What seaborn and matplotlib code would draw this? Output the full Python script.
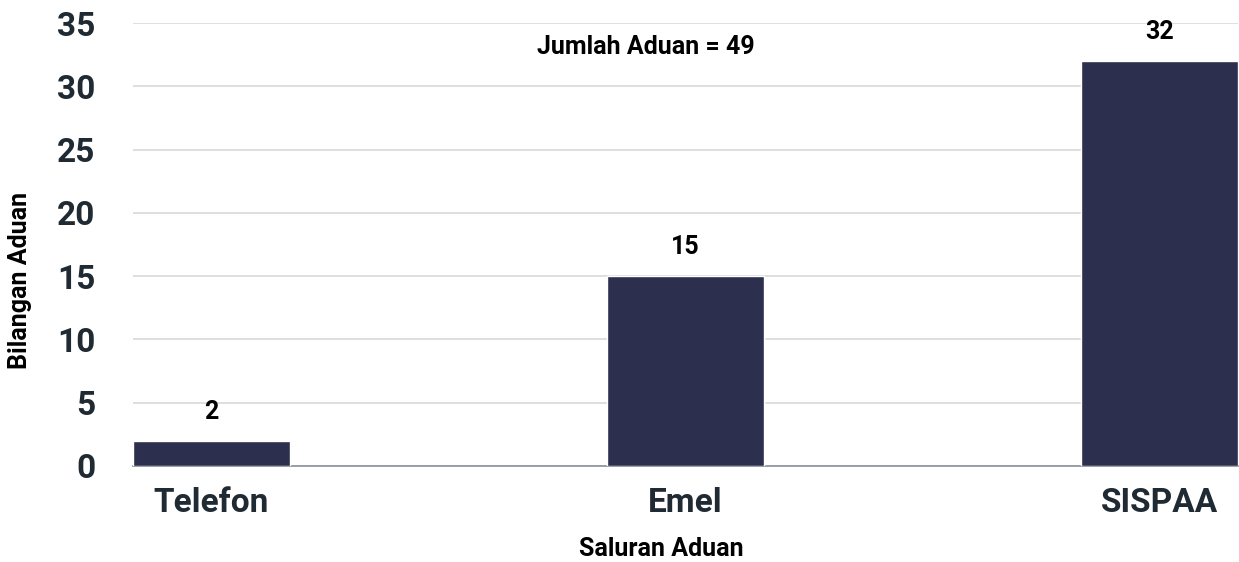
import seaborn as sns
import matplotlib.pyplot as plt
import pandas as pd

channels = ['Telefon', 'Emel', 'SISPAA']
counts = [2, 15, 32]
total_label = 'Jumlah Aduan = 49'

bar_color = '#2c2f4d'
text_color = '#1f2a33'

sns.set_style('white')
plt.rcParams['font.family'] = ['Roboto', 'DejaVu Sans']
plt.rcParams['font.weight'] = 'bold'

df = pd.DataFrame({'channel': channels, 'count': counts})

fig = plt.figure(figsize=(12.39, 5.62), dpi=100)
ax = fig.add_axes([133 / 1239, 96 / 562, 1105 / 1239, 443 / 562])

bar_w = 0.33
sns.barplot(data=df, x='channel', y='count', color=bar_color, width=bar_w,
            saturation=1, ax=ax, zorder=3)

ax.set_xlim(-bar_w / 2, 2 + bar_w / 2)
ax.set_ylim(0, 35)
ax.set_yticks(range(0, 36, 5))
ax.yaxis.grid(True, color='#d9d9d9', linewidth=1.2, zorder=0)
ax.set_axisbelow(True)

for s in ['left', 'right', 'top']:
    ax.spines[s].set_visible(False)
ax.spines['bottom'].set_color('#8a9099')
ax.spines['bottom'].set_linewidth(1.2)

ax.tick_params(axis='y', length=0, pad=27, labelsize=24, labelcolor=text_color)
ax.tick_params(axis='x', length=0, pad=15, labelsize=24, labelcolor=text_color)
for lbl in ax.get_xticklabels() + ax.get_yticklabels():
    lbl.set_fontweight('bold')

for i, v in enumerate(counts):
    ax.annotate(str(v), (i, v), xytext=(0, 12), textcoords='offset points',
                ha='center', va='bottom', fontsize=18, fontweight='bold',
                color='black')

ax.text(0.464, 0.946, total_label, transform=ax.transAxes, ha='center',
        va='center', fontsize=18, fontweight='bold', color='black')

ax.set_xlabel('')
ax.set_ylabel('')
fig.text(661 / 1239, 1 - 549 / 562, 'Saluran Aduan', ha='center', va='center',
         fontsize=18, fontweight='bold', color='black')
fig.text(20 / 1239, 1 - 280 / 562, 'Bilangan Aduan', ha='center', va='center',
         rotation=90, fontsize=18, fontweight='bold', color='black')

fig.savefig('out.png', dpi=100)
